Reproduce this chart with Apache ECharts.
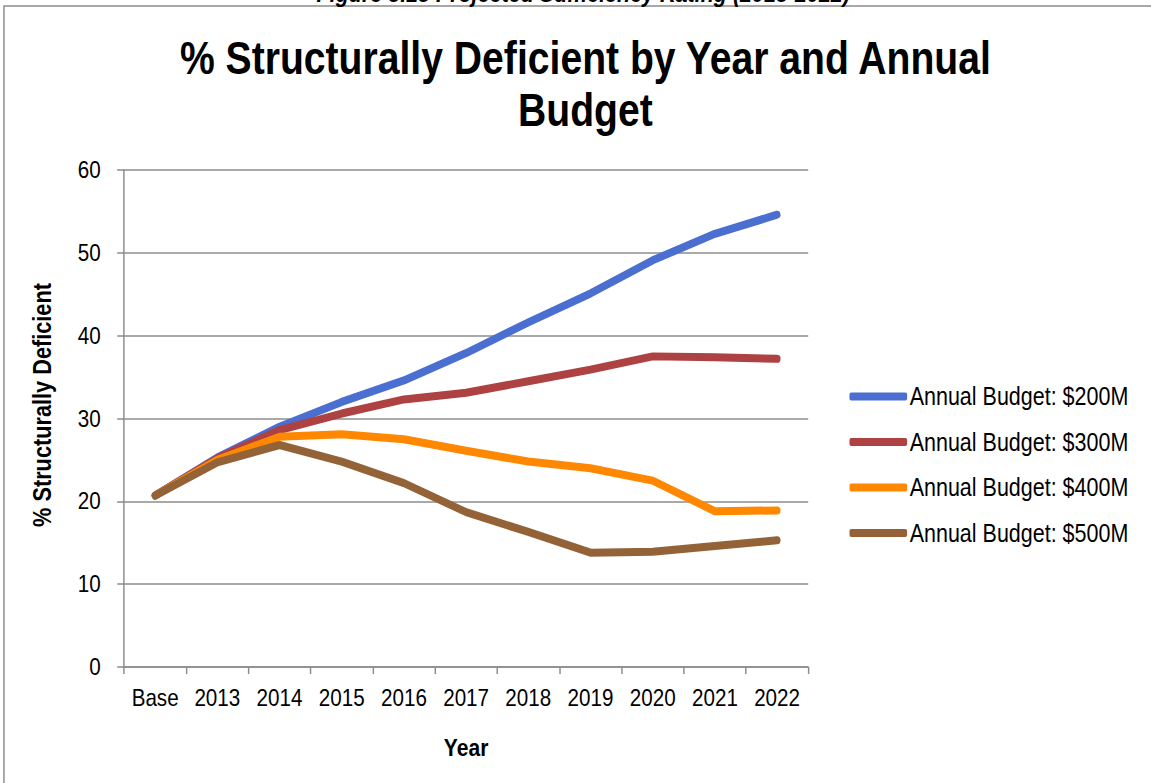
<!DOCTYPE html>
<html>
<head>
<meta charset="utf-8">
<title>% Structurally Deficient by Year and Annual Budget</title>
<script src="https://cdn.jsdelivr.net/npm/echarts@6/dist/echarts.min.js"></script>
<style>
  html, body { margin: 0; padding: 0; background: #fff; overflow: hidden; }
  #wrap { width: 1151px; height: 783px; overflow: hidden; }
  /* The chart is laid out on a wider canvas and condensed horizontally,
     which gives the narrow typeface look without a condensed font file. */
  #chart { width: 1338px; height: 783px; transform: scaleX(0.86024); transform-origin: 0 0; }
</style>
</head>
<body>
<div id="wrap"><div id="chart"></div></div>
<script>
// Projected share of structurally deficient bridges under four annual budgets
const years = ['Base', '2013', '2014', '2015', '2016', '2017', '2018', '2019', '2020', '2021', '2022'];
const budget200 = [20.7, 25.3, 29.0, 32.0, 34.6, 37.9, 41.6, 45.1, 49.1, 52.3, 54.6];
const budget300 = [20.7, 25.2, 28.6, 30.6, 32.3, 33.1, 34.5, 35.9, 37.5, 37.4, 37.2];
const budget400 = [20.7, 25.0, 27.8, 28.1, 27.5, 26.1, 24.8, 24.0, 22.5, 18.8, 18.9];
const budget500 = [20.7, 24.7, 26.8, 24.8, 22.2, 18.7, 16.3, 13.8, 13.9, 14.6, 15.3];
const seriesNames = ['Annual Budget: $200M', 'Annual Budget: $300M', 'Annual Budget: $400M', 'Annual Budget: $500M'];
const seriesColors = ['#4a6fd0', '#ae4141', '#ff8800', '#936337'];
const yTicks = [0, 10, 20, 30, 40, 50, 60];

const SX = 0.86024;            // horizontal condensing applied to #chart
const FONT = '"Liberation Sans", Arial, sans-serif';
const AXIS_GRAY = '#8c8c8c';

const chart = echarts.init(document.getElementById('chart'), null, { renderer: 'svg', width: 1338, height: 783 });

const seriesData = [budget200, budget300, budget400, budget500];

chart.setOption({
  backgroundColor: '#ffffff',
  animation: false,
  textStyle: { fontFamily: FONT },
  title: {
    text: '% Structurally Deficient by Year and Annual\nBudget',
    left: 675.5,
    top: 27,
    textAlign: 'center',
    textStyle: {
      fontFamily: FONT,
      fontSize: 45.5,
      fontWeight: 'bold',
      color: '#000',
      lineHeight: 52
    }
  },
  graphic: [
    {
      type: 'rect',
      shape: { x: 4.6, y: 6, width: 1500, height: 1000 },
      style: { fill: null, stroke: AXIS_GRAY, lineWidth: 1.7 },
      silent: true,
      z: -10
    },
    {
      // page caption above the chart frame, partly outside the page top
      type: 'text',
      x: 678,
      y: 5.5,
      style: {
        text: 'Figure 3.13 Projected Sufficiency Rating (2013-2022)',
        fontFamily: FONT,
        fontSize: 25,
        fontStyle: 'italic',
        fontWeight: 'bold',
        fill: '#000',
        textAlign: 'center',
        textVerticalAlign: 'bottom'
      },
      silent: true
    },
    {
      // y-axis title, rotated; scale keeps the glyph weight after condensing
      type: 'text',
      x: 48.8,
      y: 405,
      rotation: Math.PI / 2,
      scaleX: 0.82,
      scaleY: 1 / SX,
      style: {
        text: '% Structurally Deficient',
        fontFamily: FONT,
        fontSize: 26.5,
        fontWeight: 'bold',
        fill: '#000',
        textAlign: 'center',
        textVerticalAlign: 'middle'
      },
      silent: true
    }
  ],
  legend: {
    orient: 'vertical',
    left: 982.5,
    top: 379,
    itemWidth: 67,
    itemHeight: 8,
    itemGap: 20.5,
    icon: 'roundRect',
    data: seriesNames,
    textStyle: {
      fontFamily: FONT,
      fontSize: 25,
      color: '#000',
      lineHeight: 24,
      padding: [0, 0, 0, -2]
    }
  },
  grid: {
    left: 144.2,
    right: 398.5,
    top: 170,
    bottom: 116,
    containLabel: false
  },
  xAxis: {
    type: 'category',
    data: years,
    boundaryGap: true,
    name: 'Year',
    nameLocation: 'middle',
    nameGap: 68,
    nameTextStyle: { fontFamily: FONT, fontSize: 24.5, fontWeight: 'bold', color: '#000' },
    axisLine: { show: true, lineStyle: { color: AXIS_GRAY, width: 1.5 } },
    axisTick: { show: true, alignWithLabel: false, length: 7, lineStyle: { color: AXIS_GRAY, width: 1.7 } },
    axisLabel: { margin: 19, fontFamily: FONT, fontSize: 24, color: '#000', interval: 0 },
    splitLine: { show: false }
  },
  yAxis: {
    type: 'value',
    min: yTicks[0],
    max: yTicks[yTicks.length - 1],
    interval: 10,
    axisLine: { show: true, lineStyle: { color: AXIS_GRAY, width: 1.7 } },
    axisTick: { show: true, length: 8, lineStyle: { color: AXIS_GRAY, width: 1.5 } },
    axisLabel: { margin: 27, fontFamily: FONT, fontSize: 24, color: '#000' },
    splitLine: { show: true, lineStyle: { color: AXIS_GRAY, width: 1.5 } }
  },
  series: seriesNames.map((name, i) => ({
    name: name,
    type: 'line',
    data: seriesData[i],
    smooth: false,
    symbol: 'none',
    color: seriesColors[i],
    lineStyle: { width: 8, color: seriesColors[i], cap: 'round', join: 'round' },
    z: 2 + i
  }))
});
</script>
</body>
</html>
